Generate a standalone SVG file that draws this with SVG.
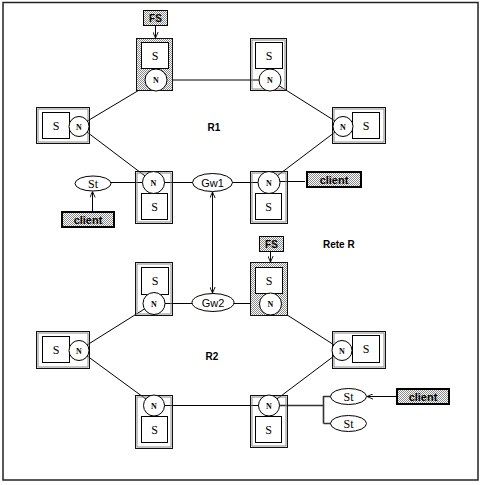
<svg xmlns="http://www.w3.org/2000/svg" width="480" height="485" viewBox="0 0 480 485">
<defs>
<pattern id="dot" width="2" height="2" patternUnits="userSpaceOnUse">
<rect width="2" height="2" fill="#fff"/>
<rect x="0" y="0" width="1" height="1" fill="#8a8a8a"/>
<rect x="1" y="1" width="1" height="1" fill="#8a8a8a"/>
</pattern>
<marker id="ar" viewBox="0 0 8 8" refX="8" refY="4" markerWidth="6" markerHeight="6" markerUnits="userSpaceOnUse" orient="auto-start-reverse">
<path d="M0,0.5 L8,4 L0,7.5" fill="none" stroke="#000" stroke-width="1.2"/>
</marker>
<style>
.ob{fill:none;stroke:#111;stroke-width:1}
.ib{fill:none;stroke:#888;stroke-width:1}
.sh{fill:url(#dot);stroke:#111;stroke-width:1}
.sq{fill:#fff;stroke:#000;stroke-width:1}
.nc{fill:#fff;stroke:#000;stroke-width:1}
.el{fill:#fff;stroke:#000;stroke-width:1}
.cl{fill:url(#dot);stroke:#000;stroke-width:2}
.fs{fill:url(#dot);stroke:#000;stroke-width:1}
.ln{fill:none;stroke:#000;stroke-width:1}
.br{fill:none;stroke:#333;stroke-width:1.6}
.ts{font-family:"Liberation Serif",serif;font-size:12px;text-anchor:middle;fill:#000}
.tn{font-family:"Liberation Serif",serif;font-size:8px;font-weight:bold;text-anchor:middle;fill:#000}
.tg{font-family:"Liberation Sans",sans-serif;font-size:11px;text-anchor:middle;fill:#000}
.tl{font-family:"Liberation Sans",sans-serif;font-size:10px;font-weight:bold;fill:#000}
.tc{font-family:"Liberation Sans",sans-serif;font-size:11px;font-weight:bold;text-anchor:middle;fill:#000}
</style>
</defs>
<rect x="0" y="0" width="480" height="485" fill="#fff"/>
<rect x="3" y="2.5" width="475" height="477.5" fill="none" stroke="#222" stroke-width="1.5"/>

<g id="connectors">
<line class="ln" x1="156" y1="80" x2="270" y2="80"/>
<line class="ln" x1="156" y1="80" x2="79" y2="126"/>
<line class="ln" x1="270" y1="80" x2="343" y2="126"/>
<line class="ln" x1="79" y1="126" x2="153" y2="182"/>
<line class="ln" x1="343" y1="126" x2="269" y2="182"/>
<line class="ln" x1="93" y1="182.5" x2="269" y2="182.5"/>
<line class="ln" x1="305" y1="181.5" x2="280" y2="181.5"/>
<line class="ln" x1="92.5" y1="212" x2="92.5" y2="191.5" marker-end="url(#ar)"/>
<line class="ln" x1="155.5" y1="26" x2="155.5" y2="38" marker-end="url(#ar)"/>
<line class="ln" x1="212.5" y1="192" x2="212.5" y2="293" marker-start="url(#ar)" marker-end="url(#ar)"/>
<line class="ln" x1="154" y1="303.5" x2="270" y2="303.5"/>
<line class="ln" x1="154" y1="303" x2="79" y2="350"/>
<line class="ln" x1="270" y1="304" x2="342" y2="350"/>
<line class="ln" x1="79" y1="350" x2="154" y2="405"/>
<line class="ln" x1="342" y1="350" x2="269" y2="405"/>
<line class="ln" x1="154" y1="405.5" x2="269" y2="405.5"/>
<line class="ln" x1="270.5" y1="251" x2="270.5" y2="262" marker-end="url(#ar)"/>
<path class="br" d="M279,405.5 H323.5 M323.5,396 V423.5 M323.5,396.5 H331 M323.5,423.5 H331"/>
<line class="ln" x1="396" y1="396.5" x2="367" y2="396.5" marker-end="url(#ar)"/>
</g>

<g id="R1-top-left">
<rect class="sh" x="136.5" y="38.5" width="36" height="52"/>
<rect class="sq" x="141.5" y="42.5" width="27" height="26"/>
<text class="ts" x="155" y="60">S</text>
<circle class="nc" cx="156" cy="80" r="11"/>
<text class="tn" x="156" y="83">N</text>
</g>
<g id="FS1">
<rect class="fs" x="143.5" y="10.5" width="24" height="15"/>
<text class="tl" x="155.5" y="22" text-anchor="middle">FS</text>
</g>
<g id="R1-top-right">
<rect class="ob" x="250.5" y="38.5" width="36" height="52"/>
<rect class="ib" x="252" y="40" width="33" height="49"/>
<rect class="sq" x="255.5" y="42.5" width="27" height="26"/>
<text class="ts" x="269" y="60">S</text>
<circle class="nc" cx="270" cy="80" r="11"/>
<text class="tn" x="270" y="83">N</text>
</g>
<g id="R1-left">
<rect class="ob" x="36.5" y="107.5" width="53" height="36"/>
<rect class="ib" x="38" y="109" width="50" height="33"/>
<rect class="sq" x="42.5" y="112.5" width="27" height="26"/>
<text class="ts" x="56" y="130">S</text>
<circle class="nc" cx="79" cy="126.5" r="10"/>
<text class="tn" x="79" y="129.5">N</text>
</g>
<g id="R1-right">
<rect class="ob" x="332.5" y="107.5" width="53" height="36"/>
<rect class="ib" x="334" y="109" width="50" height="33"/>
<rect class="sq" x="352.5" y="112.5" width="27" height="26"/>
<text class="ts" x="366" y="130">S</text>
<circle class="nc" cx="343" cy="126.5" r="10"/>
<text class="tn" x="343" y="129.5">N</text>
</g>
<g id="R1-bottom-left">
<rect class="ob" x="135.5" y="171.5" width="37" height="52"/>
<rect class="ib" x="137" y="173" width="34" height="49"/>
<rect class="sq" x="141.5" y="193.5" width="26" height="26"/>
<text class="ts" x="154.5" y="211">S</text>
<circle class="nc" cx="153.5" cy="182.5" r="11"/>
<text class="tn" x="153.5" y="185.5">N</text>
</g>
<g id="R1-bottom-right">
<rect class="ob" x="250.5" y="171.5" width="37" height="52"/>
<rect class="ib" x="252" y="173" width="34" height="49"/>
<rect class="sq" x="255.5" y="193.5" width="26" height="26"/>
<text class="ts" x="268.5" y="211">S</text>
<circle class="nc" cx="269" cy="182.5" r="11"/>
<text class="tn" x="269" y="185.5">N</text>
</g>
<g id="St1">
<ellipse class="el" cx="93" cy="183.5" rx="18" ry="7.5"/>
<text class="ts" x="93" y="187.5">St</text>
</g>
<g id="client1">
<rect class="cl" x="62" y="212" width="52" height="15"/>
<text class="tc" x="88" y="223.5">client</text>
</g>
<g id="client2">
<rect class="cl" x="307" y="172" width="54" height="15"/>
<text class="tc" x="334" y="183.5">client</text>
</g>
<g id="Gw1">
<ellipse class="el" cx="212.5" cy="182.5" rx="20" ry="9"/>
<text class="tg" x="212.5" y="186.5">Gw1</text>
</g>
<text class="tl" x="214" y="131" text-anchor="middle">R1</text>
<text class="tl" x="323" y="248">Rete R</text>

<g id="Gw2">
<ellipse class="el" cx="213" cy="302.5" rx="21" ry="9"/>
<text class="tg" x="213" y="306.5">Gw2</text>
</g>
<g id="R2-top-left">
<rect class="ob" x="135.5" y="262.5" width="37" height="53"/>
<rect class="ib" x="137" y="264" width="34" height="50"/>
<rect class="sq" x="141.5" y="267.5" width="27" height="27"/>
<text class="ts" x="155" y="285">S</text>
<circle class="nc" cx="154" cy="303.5" r="11"/>
<text class="tn" x="154" y="306.5">N</text>
</g>
<g id="R2-top-right">
<rect class="sh" x="250.5" y="262.5" width="37" height="53"/>
<rect class="sq" x="255.5" y="267.5" width="27" height="26"/>
<text class="ts" x="269" y="285">S</text>
<circle class="nc" cx="270.5" cy="304" r="11"/>
<text class="tn" x="270.5" y="307">N</text>
</g>
<g id="FS2">
<rect class="fs" x="259.5" y="236.5" width="24" height="15"/>
<text class="tl" x="271.5" y="248" text-anchor="middle">FS</text>
</g>
<g id="R2-left">
<rect class="ob" x="36.5" y="331.5" width="53" height="37"/>
<rect class="ib" x="38" y="333" width="50" height="34"/>
<rect class="sq" x="42.5" y="336.5" width="27" height="26"/>
<text class="ts" x="56" y="354">S</text>
<circle class="nc" cx="79" cy="350.5" r="10"/>
<text class="tn" x="79" y="353.5">N</text>
</g>
<g id="R2-right">
<rect class="ob" x="332.5" y="331.5" width="53" height="37"/>
<rect class="ib" x="334" y="333" width="50" height="34"/>
<rect class="sq" x="352.5" y="335.5" width="27" height="27"/>
<text class="ts" x="366" y="353">S</text>
<circle class="nc" cx="342" cy="350.5" r="10"/>
<text class="tn" x="342" y="353.5">N</text>
</g>
<g id="R2-bottom-left">
<rect class="ob" x="135.5" y="395.5" width="37" height="53"/>
<rect class="ib" x="137" y="397" width="34" height="50"/>
<rect class="sq" x="141.5" y="416.5" width="26" height="26"/>
<text class="ts" x="154.5" y="434">S</text>
<circle class="nc" cx="154" cy="405.5" r="10.5"/>
<text class="tn" x="154" y="408.5">N</text>
</g>
<g id="R2-bottom-right">
<rect class="ob" x="250.5" y="395.5" width="37" height="52"/>
<rect class="ib" x="252" y="397" width="34" height="49"/>
<rect class="sq" x="255.5" y="416.5" width="26" height="26"/>
<text class="ts" x="268.5" y="434">S</text>
<circle class="nc" cx="269" cy="405.5" r="10.5"/>
<text class="tn" x="269" y="408.5">N</text>
</g>
<g id="St2">
<ellipse class="el" cx="348.5" cy="396.5" rx="18" ry="8"/>
<text class="ts" x="348.5" y="400.5">St</text>
</g>
<g id="St3">
<ellipse class="el" cx="348.5" cy="423.5" rx="18" ry="8"/>
<text class="ts" x="348.5" y="427.5">St</text>
</g>
<g id="client3">
<rect class="cl" x="397" y="389" width="52" height="15"/>
<text class="tc" x="423" y="400.5">client</text>
</g>
<text class="tl" x="212" y="360" text-anchor="middle">R2</text>
</svg>
